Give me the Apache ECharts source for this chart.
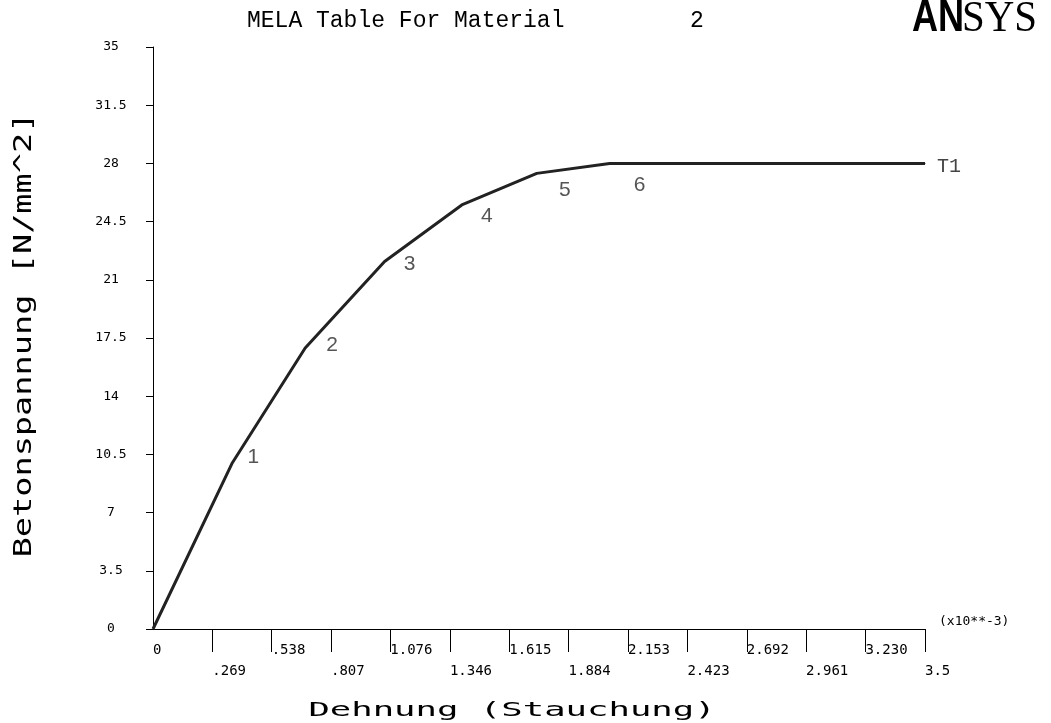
<!DOCTYPE html>
<html>
<head>
<meta charset="utf-8">
<script src="https://cdn.jsdelivr.net/npm/echarts@6/dist/echarts.min.js"></script>
<style>
  html, body { margin: 0; padding: 0; background: #fff; }
  #chart { width: 1051px; height: 723px; }
</style>
</head>
<body>
<div id="chart"></div>
<script>
// MELA Tabelle, Material 2 (Dehnung in 10**-3, Spannung in N/mm^2)
var strain = [0, 0.36, 0.69, 1.05, 1.40, 1.74, 2.07, 3.5];
var stress = [0, 10.0, 16.9, 22.1, 25.5, 27.4, 28.0, 28.0];
var pointNames = ['', '1', '2', '3', '4', '5', '6', 'T1'];

var xTickValues = [0, 0.269, 0.538, 0.807, 1.076, 1.346, 1.615, 1.884, 2.153, 2.423, 2.692, 2.961, 3.230, 3.5];
var xTickLabels = ['0', '.269', '.538', '.807', '1.076', '1.346', '1.615', '1.884', '2.153', '2.423', '2.692', '2.961', '3.230', '3.5'];

// wo die Nummern neben den Knicken stehen (px)
var labelOffsets = [[0, 0], [21, -6], [27, -3], [25, 3], [25, 11], [28, 17], [30, 22], [24, 3]];

var mono = 'DejaVu Sans Mono';

var chart = echarts.init(document.getElementById('chart'));

var pts = [];
for (var i = 0; i < strain.length; i++) {
  var lbl = { offset: labelOffsets[i] };
  if (pointNames[i] === 'T1') {
    lbl.fontFamily = 'Liberation Mono';
    lbl.fontSize = 20;
    lbl.color = '#444';
  }
  pts.push({ value: [strain[i], stress[i]], label: lbl });
}

var option = {
  animation: false,
  backgroundColor: '#fff',
  grid: { left: 153, right: 126, top: 47, bottom: 94, containLabel: false },
  xAxis: {
    type: 'value',
    min: 0,
    max: 3.5,
    splitLine: { show: false },
    axisLine: { show: true, onZero: false, lineStyle: { color: '#000', width: 1 } },
    axisTick: { show: true, length: 23, customValues: xTickValues.slice(1), lineStyle: { color: '#000' } },
    axisLabel: {
      customValues: xTickValues,
      formatter: function (v) {
        var k = xTickValues.indexOf(v);
        if (k < 0) return '';
        return (k % 2 === 1 ? '\n' : '') + xTickLabels[k];
      },
      align: 'left',
      verticalAlign: 'top',
      lineHeight: 21,
      margin: 11,
      fontFamily: mono,
      fontSize: 14,
      color: '#000'
    },
    name: '(x10**-3)',
    nameLocation: 'end',
    nameGap: 14,
    nameTextStyle: { fontFamily: mono, fontSize: 13, color: '#000', align: 'left', verticalAlign: 'bottom', lineHeight: 14 }
  },
  yAxis: {
    type: 'value',
    min: 0,
    max: 35,
    interval: 3.5,
    splitLine: { show: false },
    axisLine: { show: true, lineStyle: { color: '#000', width: 1 } },
    axisTick: { show: true, length: 7, lineStyle: { color: '#000' } },
    axisLabel: { align: 'center', margin: 42, fontFamily: mono, fontSize: 13, color: '#000' }
  },
  graphic: [
    {
      type: 'text', left: 247, top: 9,
      style: { text: 'MELA Table For Material', fontFamily: 'Liberation Mono', fontSize: 23, fill: '#000' }
    },
    {
      type: 'text', left: 690, top: 9,
      style: { text: '2', fontFamily: 'Liberation Mono', fontSize: 23, fill: '#000' }
    },
    {
      type: 'text', x: 912, y: 41, scaleX: 0.82,
      style: { text: 'AN', fontFamily: 'Liberation Sans', fontWeight: 'bold', fontSize: 44, fill: '#000', verticalAlign: 'bottom', lineHeight: 44 }
    },
    {
      type: 'text', x: 962, y: 41, scaleX: 0.93,
      style: { text: 'SYS', fontFamily: 'Liberation Serif', fontSize: 44, fill: '#000', verticalAlign: 'bottom', lineHeight: 44 }
    },
    {
      type: 'text', x: 25, y: 335, rotation: Math.PI / 2, scaleX: 1.4,
      style: { text: 'Betonspannung [N/mm^2]', fontFamily: mono, fontSize: 24, fill: '#000', align: 'center', verticalAlign: 'middle' }
    },
    {
      type: 'text', x: 512, y: 711, scaleX: 1.78,
      style: { text: 'Dehnung (Stauchung)', fontFamily: mono, fontSize: 20, fill: '#000', align: 'center', verticalAlign: 'middle' }
    }
  ],
  series: [{
    type: 'line',
    data: pts,
    symbol: 'circle',
    symbolSize: 1,
    showSymbol: true,
    silent: true,
    itemStyle: { color: '#222' },
    lineStyle: { color: '#222', width: 3 },
    label: {
      show: true,
      position: 'inside',
      formatter: function (p) { return pointNames[p.dataIndex]; },
      fontFamily: 'Liberation Sans',
      fontSize: 21,
      color: '#555'
    }
  }]
};

chart.setOption(option);
</script>
</body>
</html>
